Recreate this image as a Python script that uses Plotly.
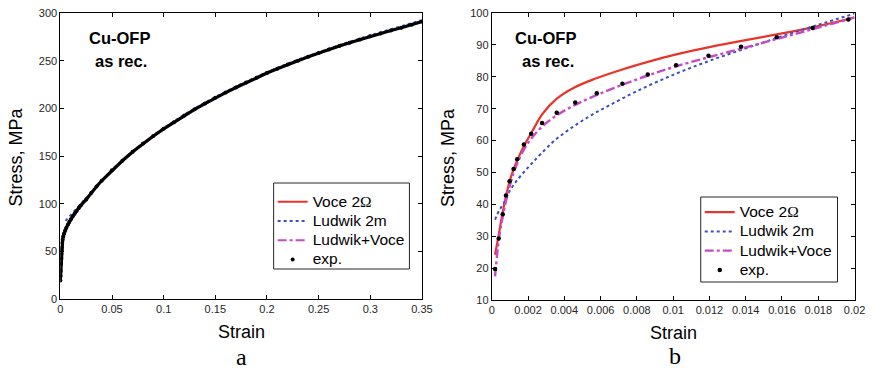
import plotly.graph_objects as go

# ---------------- data: panel (b) small strain ----------------
exp_strain_b = [0.00018, 0.00038, 0.0006, 0.00078, 0.00098, 0.0012, 0.0014, 0.00177, 0.00217,
                0.00277, 0.00358, 0.0046, 0.00579, 0.0072, 0.0086, 0.01016, 0.01195, 0.01374,
                0.01571, 0.01769, 0.01966]
exp_stress_b = [19.7, 29.3, 36.9, 42.8, 47.2, 51.1, 54.1, 58.8, 62.1,
                65.5, 68.7, 71.9, 74.8, 77.8, 80.7, 83.6, 86.6, 89.4,
                92.4, 95.3, 98.0]

voce_strain_b = [0.00018, 0.0004, 0.0006, 0.0008, 0.001, 0.0012, 0.0014, 0.0018, 0.0022, 0.0028,
                 0.0036, 0.0045, 0.0056, 0.0072, 0.009, 0.01, 0.012, 0.014, 0.016, 0.018, 0.02]
voce_stress_b = [24.2, 31.0, 37.5, 43.0, 47.6, 51.0, 53.8, 58.6, 62.6, 68.4,
                 73.2, 76.5, 79.2, 82.3, 85.3, 86.8, 89.3, 91.5, 93.6, 95.9, 98.6]

lud_strain_b = [0.00018, 0.0004, 0.0007, 0.001, 0.0014, 0.0018, 0.0022, 0.0027, 0.0035, 0.0045,
                0.0055, 0.0065, 0.008, 0.01, 0.012, 0.014, 0.016, 0.018, 0.02]
lud_stress_b = [35.2, 38.0, 40.8, 44.3, 47.6, 50.3, 52.8, 55.8, 60.2, 64.4,
                68.0, 71.1, 75.5, 80.6, 85.0, 88.9, 92.7, 96.3, 99.8]

lv_strain_b = [0.00018, 0.0004, 0.0006, 0.0008, 0.001, 0.0012, 0.0014, 0.0018, 0.0022, 0.0028,
               0.0036, 0.0046, 0.0058, 0.0072, 0.0086, 0.01, 0.012, 0.014, 0.016, 0.018, 0.02]
lv_stress_b = [17.4, 29.5, 36.0, 41.5, 46.0, 49.8, 52.8, 57.5, 60.8, 64.5,
               68.0, 71.2, 74.3, 77.5, 80.4, 83.0, 86.2, 89.2, 92.3, 95.4, 98.6]

# ---------------- data: panel (a) full range ----------------
exp_strain_a = [0.0, 0.00018, 0.00038, 0.0006, 0.00078, 0.00098, 0.0012, 0.0014, 0.00177, 0.00217,
                0.00277, 0.00358, 0.0046, 0.00579, 0.0072, 0.0086, 0.01016, 0.01195, 0.01374,
                0.01571, 0.01769, 0.01966, 0.025, 0.03, 0.035, 0.04, 0.05, 0.06, 0.07, 0.08,
                0.09, 0.10, 0.11, 0.12, 0.13, 0.14, 0.15, 0.16, 0.17, 0.18, 0.19, 0.20, 0.21,
                0.22, 0.23, 0.24, 0.25, 0.26, 0.27, 0.28, 0.29, 0.30, 0.31, 0.32, 0.33, 0.34, 0.35]
exp_stress_a = [19.5, 24.0, 29.3, 36.9, 42.8, 47.2, 51.1, 54.1, 58.8, 62.1,
                65.5, 68.7, 71.9, 74.8, 77.8, 80.7, 83.6, 86.6, 89.4,
                92.4, 95.3, 98.0, 104.5, 111.5, 118.0, 124.0, 135.0, 145.0, 154.5, 163.0,
                171.0, 178.5, 185.5, 192.5, 199.0, 205.0, 211.0, 216.5, 221.8, 227.0, 232.0, 237.0, 241.5,
                246.0, 250.0, 254.0, 258.0, 261.8, 265.4, 268.8, 272.2, 275.5, 278.6, 281.6, 284.6, 287.8, 291.0]

fit_strain_a = [0.00018, 0.0006, 0.001, 0.0015, 0.002, 0.003, 0.005, 0.0075, 0.01, 0.015, 0.02,
                0.03, 0.04, 0.05, 0.075, 0.1, 0.125, 0.15, 0.175, 0.2, 0.225, 0.25, 0.275, 0.3,
                0.325, 0.35]
voce_stress_a = [24.0, 37.5, 47.5, 54.0, 60.0, 67.5, 74.0, 79.0, 84.0, 91.0, 98.5,
                 111.5, 124.0, 135.0, 158.5, 178.5, 195.8, 211.0, 224.5, 237.0, 248.0, 258.0, 267.1, 275.5,
                 283.1, 291.0]
lv_stress_a = [17.5, 36.0, 46.0, 54.0, 59.5, 65.0, 72.5, 78.5, 83.5, 91.0, 98.5,
               111.5, 124.0, 135.0, 158.5, 178.5, 195.8, 211.0, 224.5, 237.0, 248.0, 258.0, 267.1, 275.5,
               283.1, 291.0]
lud_strain_a = [0.005, 0.0075, 0.01, 0.015, 0.02, 0.03, 0.04, 0.05, 0.075, 0.1, 0.125, 0.15, 0.175,
                0.2, 0.225, 0.25, 0.275, 0.3, 0.325, 0.35]
lud_stress_a = [82.0, 85.0, 88.0, 94.0, 100.0, 113.0, 125.0, 136.0, 159.5, 179.5, 196.8, 212.0, 225.5,
                238.0, 249.0, 259.0, 268.2, 276.6, 284.3, 292.5]

xticks_a = [0, 0.05, 0.1, 0.15, 0.2, 0.25, 0.3, 0.35]
xticktext_a = ["0", "0.05", "0.1", "0.15", "0.2", "0.25", "0.3", "0.35"]
yticks_a = [0, 50, 100, 150, 200, 250, 300]
xticks_b = [0, 0.002, 0.004, 0.006, 0.008, 0.01, 0.012, 0.014, 0.016, 0.018, 0.02]
xticktext_b = ["0", "0.002", "0.004", "0.006", "0.008", "0.01", "0.012", "0.014", "0.016", "0.018", "0.02"]
yticks_b = [10, 20, 30, 40, 50, 60, 70, 80, 90, 100]

LEG_SPAN = "<span style='font-size:15.5px'>{}</span>"
names = [LEG_SPAN.format("Voce 2<span style='font-family:Liberation Serif'>\u03a9</span>"),
         LEG_SPAN.format("Ludwik 2m"), LEG_SPAN.format("Ludwik+Voce"), LEG_SPAN.format("exp.")]

RED = "#e8352b"
BLUE = "#3c4fc0"
MAG = "#c64ac6"
FONT = "Liberation Sans, Arial, sans-serif"
W, H_PLOT, BOT = 880, 287, 300  # pixel helpers for paper coordinates


def px_x(px):
    return px / W


def px_y(py):
    return (BOT - py) / H_PLOT


fig = go.Figure()

# panel a
fig.add_trace(go.Scatter(x=fit_strain_a, y=voce_stress_a, mode="lines", name=names[0],
                         line=dict(color=RED, width=2), xaxis="x", yaxis="y", legend="legend"))
fig.add_trace(go.Scatter(x=lud_strain_a, y=lud_stress_a, mode="lines", name=names[1],
                         line=dict(color=BLUE, width=2, dash="dot"), xaxis="x", yaxis="y", legend="legend"))
fig.add_trace(go.Scatter(x=fit_strain_a, y=lv_stress_a, mode="lines", name=names[2],
                         line=dict(color=MAG, width=2, dash="dashdot"), xaxis="x", yaxis="y", legend="legend"))
fig.add_trace(go.Scatter(x=exp_strain_a, y=exp_stress_a, mode="lines", showlegend=False,
                         line=dict(color="black", width=3.2), xaxis="x", yaxis="y"))
fig.add_trace(go.Scatter(x=exp_strain_a, y=exp_stress_a, mode="markers", name=names[3],
                         marker=dict(color="black", size=4), xaxis="x", yaxis="y", legend="legend"))

# panel b
fig.add_trace(go.Scatter(x=voce_strain_b, y=voce_stress_b, mode="lines", name=names[0],
                         line=dict(color=RED, width=2.2, shape="spline"), xaxis="x2", yaxis="y2", legend="legend2"))
fig.add_trace(go.Scatter(x=lud_strain_b, y=lud_stress_b, mode="lines", name=names[1],
                         line=dict(color=BLUE, width=2, dash="dot", shape="spline"), xaxis="x2", yaxis="y2", legend="legend2"))
fig.add_trace(go.Scatter(x=lv_strain_b, y=lv_stress_b, mode="lines", name=names[2],
                         line=dict(color=MAG, width=2.4, dash="dashdot", shape="spline"), xaxis="x2", yaxis="y2", legend="legend2"))
fig.add_trace(go.Scatter(x=exp_strain_b, y=exp_stress_b, mode="markers", name=names[3],
                         marker=dict(color="black", size=4.5), xaxis="x2", yaxis="y2", legend="legend2"))

axis_common = dict(showgrid=False, zeroline=False, showline=True, linecolor="black", linewidth=1,
                   mirror="allticks", ticks="inside", ticklen=4, tickcolor="black", tickwidth=1,
                   tickfont=dict(family=FONT, size=11, color="#262626"))

legend_common = dict(xanchor="left", yanchor="top", bgcolor="rgba(0,0,0,0)", borderwidth=0,
                     font=dict(family=FONT, size=12.5, color="black"), tracegroupgap=0, itemwidth=30)

fig.update_layout(
    width=W, height=372,
    margin=dict(l=0, r=0, t=13, b=72),
    paper_bgcolor="white", plot_bgcolor="white",
    font=dict(family=FONT, color="black"),
    xaxis=dict(domain=[58.3 / W, 425.7 / W], range=[0, 0.35], tickvals=xticks_a,
               ticktext=xticktext_a, anchor="y", **axis_common),
    yaxis=dict(domain=[1 / H_PLOT, 1], range=[0, 300], tickvals=yticks_a, anchor="x", **axis_common),
    xaxis2=dict(domain=[496.7 / W, 865.3 / W], range=[0, 0.02], tickvals=xticks_b,
                ticktext=xticktext_b, anchor="y2", **axis_common),
    yaxis2=dict(domain=[0, 1], range=[10, 100], tickvals=yticks_b, anchor="x2", **axis_common),
    legend=dict(x=px_x(274), y=px_y(187), **legend_common),
    legend2=dict(x=px_x(708), y=px_y(197.5), **legend_common),
    showlegend=True,
)

# legend frames (reference boxes are tighter than plotly's default legend padding)
for (x0, y0, x1, y1) in [(275, 183, 413, 269), (709, 197, 848, 282)]:
    fig.add_shape(type="rect", xref="paper", yref="paper",
                  x0=px_x(x0), x1=px_x(x1), y0=px_y(y1), y1=px_y(y0),
                  line=dict(color="#262626", width=1), fillcolor="white", layer="above")


def ann(text, px, py, size, bold=False, angle=0, family=FONT):
    t = "<b>" + text + "</b>" if bold else text
    fig.add_annotation(text=t, x=px_x(px), y=px_y(py), xref="paper", yref="paper",
                       showarrow=False, xanchor="center", yanchor="middle", textangle=angle,
                       font=dict(family=family, size=size, color="black"))


ann("Strain", 242, 332, 18)
ann("Strain", 681, 333, 18)
ann("Stress, MPa", 13, 156.7, 18, angle=-90)
ann("Stress, MPa", 451.7, 157.5, 18, angle=-90)
ann("Cu-OFP", 118.2, 37.7, 16.5, bold=True)
ann("as rec.", 120.3, 60.7, 16.5, bold=True)
ann("Cu-OFP", 551.7, 38, 16.5, bold=True)
ann("as rec.", 554, 61, 16.5, bold=True)
ann("a", 242, 357, 24, family="Liberation Serif, Times New Roman, serif")
ann("b", 683, 356, 24, family="Liberation Serif, Times New Roman, serif")

fig.write_html("out.html")
